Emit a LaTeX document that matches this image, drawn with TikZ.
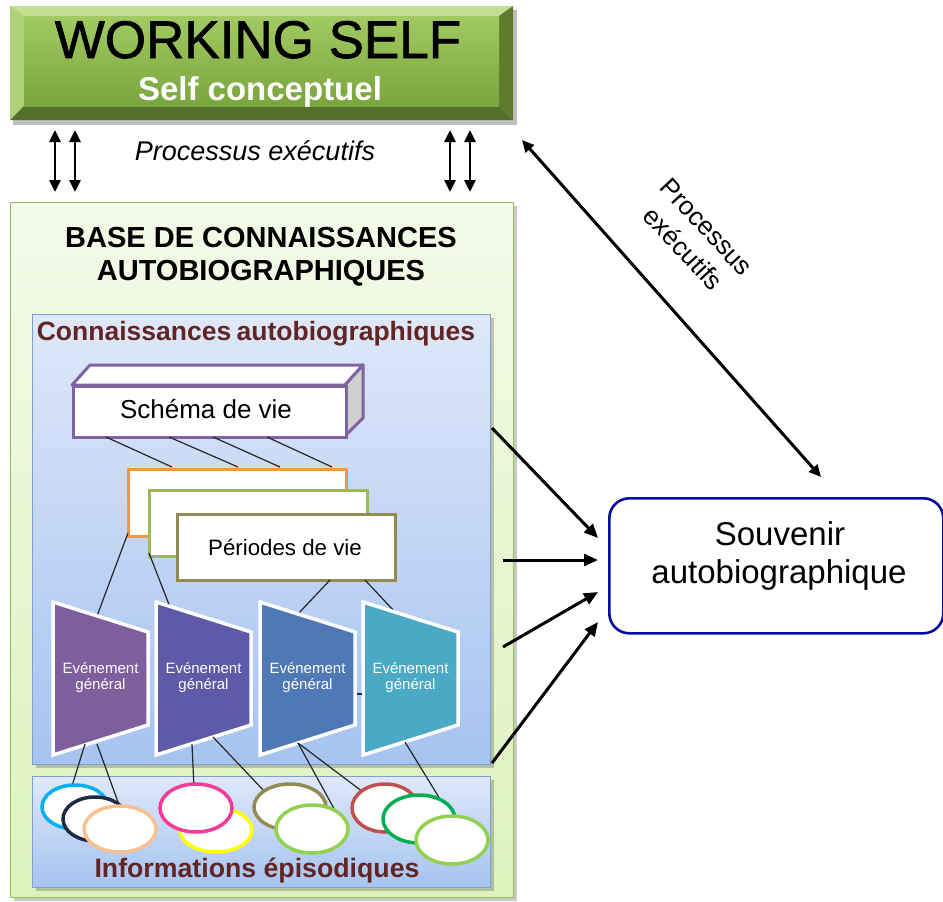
\documentclass[tikz,border=0pt]{standalone}
\usepackage{fontspec}
\setmainfont{Liberation Sans}
\newfontfamily\wsfont{Liberation Sans}[FakeBold=1.2]
\usetikzlibrary{arrows.meta,shadows,shapes.geometric}
\definecolor{wsTB}{HTML}{C2DF92}
\definecolor{wsLB}{HTML}{AED275}
\definecolor{wsRB}{HTML}{5E7C2D}
\definecolor{wsBB}{HTML}{52702A}
\definecolor{wsFT}{HTML}{A2CA62}
\definecolor{wsFB}{HTML}{7AA43E}
\definecolor{gbT}{HTML}{F3FAE8}
\definecolor{gbB}{HTML}{DCF3BD}
\definecolor{gbBorder}{HTML}{9BBB59}
\definecolor{blT}{HTML}{DEE8F9}
\definecolor{blB}{HTML}{A6C3F1}
\definecolor{blBorder}{HTML}{7F9FD3}
\definecolor{titleRed}{HTML}{632523}
\definecolor{schP}{HTML}{8064A2}
\definecolor{schG}{HTML}{D0D0D0}
\definecolor{perO}{HTML}{F79646}
\definecolor{perG}{HTML}{9BBB59}
\definecolor{perK}{HTML}{938953}
\definecolor{evA}{HTML}{7D5F9E}
\definecolor{evB}{HTML}{5E59A8}
\definecolor{evC}{HTML}{4F79B6}
\definecolor{evD}{HTML}{4AA9C5}
\definecolor{souvB}{HTML}{0A0A9E}
\definecolor{epCyan}{HTML}{00B0F0}
\definecolor{epNavy}{HTML}{1C2A44}
\definecolor{epPeach}{HTML}{FABF8F}
\definecolor{epYellow}{HTML}{FFFF00}
\definecolor{epMag}{HTML}{F23A96}
\definecolor{epKhaki}{HTML}{948A54}
\definecolor{epLG}{HTML}{92D050}
\definecolor{epRed}{HTML}{C0504D}
\definecolor{epGreen}{HTML}{00B050}
\newcommand\myfs[2]{\fontsize{#1}{#2}\selectfont}
\begin{document}
\begin{tikzpicture}[x=1pt,y=-1pt,
  lbl/.style={inner sep=0pt, anchor=base},
  dbl/.style={{Triangle[length=12pt,width=11pt]}-{Triangle[length=12pt,width=11pt]}, line width=2.8pt},
  into/.style={-{Triangle[length=14pt,width=12pt]}, line width=3pt},
  conn/.style={line width=1.2pt, draw=black!85},
  pbox/.style={draw, fill=white, line width=3pt, anchor=north west, minimum width=218pt, minimum height=67pt, inner sep=0pt},
  epi/.style={ellipse, draw, fill=white, line width=3.5pt, inner sep=0pt},
  evshape/.style={draw=white, line width=3.5pt},
  evtext/.style={align=center, text=white, inner sep=0pt, font=\myfs{15}{16}},
  bshadow/.style={drop shadow={shadow xshift=3pt, shadow yshift=-3pt, opacity=0.3, fill=black!70}}
]
\useasboundingbox (0,0) rectangle (943,902);

% ---------- WORKING SELF ----------
\fill[black,opacity=0.25] (13,10) rectangle (517,125);
\fill[wsTB] (10,6) -- (513,6) -- (499,16) -- (24,16) -- cycle;
\fill[wsLB] (10,6) -- (24,16) -- (24,106) -- (10,120) -- cycle;
\fill[wsRB] (513,6) -- (513,120) -- (499,106) -- (499,16) -- cycle;
\fill[wsBB] (10,120) -- (513,120) -- (499,106) -- (24,106) -- cycle;
\node[anchor=north west, minimum width=475pt, minimum height=90pt, inner sep=0pt,
      top color=wsFT, bottom color=wsFB] (ws) at (24,16) {};
\node[lbl] (wstitle) at (258,58) {\myfs{53}{60}\wsfont WORKING SELF};
\node[lbl, text=white] (wssub) at (260,100) {\myfs{33}{38}\bfseries Self conceptuel};

% vertical double arrows
\coordinate (v1t) at (55,130); \coordinate (v1b) at (55,192);
\coordinate (v2t) at (75,130); \coordinate (v2b) at (75,192);
\coordinate (v3t) at (450,130); \coordinate (v3b) at (450,192);
\coordinate (v4t) at (470,130); \coordinate (v4b) at (470,192);
\draw[dbl] (v1t) -- (v1b);
\draw[dbl] (v2t) -- (v2b);
\draw[dbl] (v3t) -- (v3b);
\draw[dbl] (v4t) -- (v4b);
\node[lbl] (pe1) at (255,160) {\myfs{27}{30}\itshape Processus exécutifs};

% ---------- BASE DE CONNAISSANCES ----------
\node[anchor=north west, minimum width=503pt, minimum height=695pt, inner sep=0pt,
      top color=gbT, bottom color=gbB, draw=gbBorder, line width=1.2pt, bshadow] (base) at (10,202) {};
\node[lbl] (bt1) at (261,247) {\myfs{29}{33}\bfseries BASE DE CONNAISSANCES};
\node[lbl] (bt2) at (261,280) {\myfs{29}{33}\bfseries AUTOBIOGRAPHIQUES};

% Connaissances autobiographiques box
\node[anchor=north west, minimum width=458pt, minimum height=450pt, inner sep=0pt,
      top color=blT, bottom color=blB, draw=blBorder, line width=1.3pt, bshadow] (ca) at (32,314) {};
\node[lbl, text=titleRed] (catitle) at (256,340) {\myfs{26.5}{30}\bfseries Connaissances\hspace{-2pt} autobiographiques};

% Informations episodiques box
\node[anchor=north west, minimum width=458pt, minimum height=111pt, inner sep=0pt,
      top color=blT, bottom color=blB, draw=blBorder, line width=1.3pt, bshadow] (ie) at (32,776) {};

% Schema de vie (3D box)
\fill[white, draw=schP, line width=3pt, line join=round] (72,385) -- (90,365) -- (363,365) -- (345,385) -- cycle;
\fill[schG, draw=schP, line width=3pt, line join=round] (345,385) -- (363,365) -- (363,418) -- (345,436) -- cycle;
\node[draw=schP, fill=white, line width=3pt, anchor=north west, minimum width=273pt, minimum height=51pt, inner sep=0pt] (schema) at (72,385) {};
\node[lbl] (schtxt) at (206,418) {\myfs{26}{30}Schéma de vie};

% Periodes de vie
\node[pbox, draw=perO] (p1) at (127,468) {};
\node[pbox, draw=perG, minimum height=66pt] (p2) at (148,489) {};
\node[pbox, draw=perK, minimum height=66pt] (p3) at (176,513) {};
\node[lbl] (ptxt) at (285,555) {\myfs{22.3}{26}Périodes de vie};

% schema -> periodes connectors
\coordinate (s1) at (106,437); \coordinate (q1) at (172,467);
\coordinate (s2) at (169,437); \coordinate (q2) at (238,467);
\coordinate (s3) at (213,437); \coordinate (q3) at (280,467);
\coordinate (s4) at (267,437); \coordinate (q4) at (332,467);
\draw[conn] (s1) -- (q1);
\draw[conn] (s2) -- (q2);
\draw[conn] (s3) -- (q3);
\draw[conn] (s4) -- (q4);

% periodes -> events connectors
\coordinate (r1) at (128,533); \coordinate (t1) at (97,616);
\coordinate (r2) at (149,553); \coordinate (t2) at (170,607);
\coordinate (r3) at (330,580); \coordinate (t3) at (298,614);
\coordinate (r4) at (365,580); \coordinate (t4) at (395,612);
\draw[conn] (r1) -- (t1);
\draw[conn] (r2) -- (t2);
\draw[conn] (r3) -- (t3);
\draw[conn] (r4) -- (t4);

% Evenements generaux
\filldraw[evshape, fill=evA] (53,602) -- (148,632) -- (148,725) -- (53,755) -- cycle;
\filldraw[evshape, fill=evB] (156,602) -- (251,632) -- (251,725) -- (156,755) -- cycle;
\filldraw[evshape, fill=evC] (260,602) -- (355,632) -- (355,725) -- (260,755) -- cycle;
\filldraw[evshape, fill=evD] (363,602) -- (458,632) -- (458,725) -- (363,755) -- cycle;
\coordinate (e3r) at (357,694); \coordinate (e4l) at (362,694);
\draw[conn] (e3r) -- (e4l);
\node[evtext] (ev1) at (100.5,678) {Evénement\\général};
\node[evtext] (ev2) at (203.5,678) {Evénement\\général};
\node[evtext] (ev3) at (307.5,678) {Evénement\\général};
\node[evtext] (ev4) at (410.5,678) {Evénement\\général};

% events -> episodes connectors
\coordinate (u1) at (85,744);  \coordinate (w1) at (72,786);
\coordinate (u2) at (97,744);  \coordinate (w2) at (118,802);
\coordinate (u3) at (192,744); \coordinate (w3) at (194,788);
\coordinate (u4) at (213,737); \coordinate (w4) at (265,792);
\coordinate (u5) at (298,743); \coordinate (w5) at (337,814);
\coordinate (u6) at (298,743); \coordinate (w6) at (363,792);
\coordinate (u7) at (405,742); \coordinate (w7) at (443,804);
\draw[conn] (u1) -- (w1);
\draw[conn] (u2) -- (w2);
\draw[conn] (u3) -- (w3);
\draw[conn] (u4) -- (w4);
\draw[conn] (u5) -- (w5);
\draw[conn] (u6) -- (w6);
\draw[conn] (u7) -- (w7);

% episodes
\node[epi, draw=epCyan,   minimum width=66pt, minimum height=44pt] (i1) at (75,807) {};
\node[epi, draw=epNavy,   minimum width=64pt, minimum height=44pt] (i2) at (95,819) {};
\node[epi, draw=epPeach,  minimum width=72pt, minimum height=46pt] (i3) at (120,829) {};
\node[epi, draw=epYellow, minimum width=72pt, minimum height=44pt] (i4) at (216,830) {};
\node[epi, draw=epMag,    minimum width=72pt, minimum height=48pt] (i5) at (196,808) {};
\node[epi, draw=epKhaki,  minimum width=72pt, minimum height=46pt] (i6) at (290,807) {};
\node[epi, draw=epLG,     minimum width=72pt, minimum height=48pt] (i7) at (312,829) {};
\node[epi, draw=epRed,    minimum width=66pt, minimum height=48pt] (i8) at (385,808) {};
\node[epi, draw=epGreen,  minimum width=72pt, minimum height=48pt] (i9) at (419,819) {};
\node[epi, draw=epLG,     minimum width=72pt, minimum height=48pt] (i10) at (452,840) {};
\node[lbl, text=titleRed] (ietitle) at (257,877) {\myfs{26.7}{30}\bfseries Informations épisodiques};

% ---------- SOUVENIR ----------
\node[draw=souvB, fill=white, rounded corners=20pt, line width=2.6pt, anchor=north west,
      minimum width=334pt, minimum height=135pt, inner sep=0pt] (souv) at (608,497) {};
\node[lbl] (sv1) at (780,545) {\myfs{33}{38}Souvenir};
\node[lbl] (sv2) at (779,583) {\myfs{33}{38}autobiographique};

\coordinate (k1) at (492,428); \coordinate (m1) at (598,538);
\coordinate (k2) at (503,560); \coordinate (m2) at (598,560);
\coordinate (k3) at (503,647); \coordinate (m3) at (598,592);
\coordinate (k4) at (492,763); \coordinate (m4) at (598,622);
\draw[into] (k1) -- (m1);
\draw[into] (k2) -- (m2);
\draw[into] (k3) -- (m3);
\draw[into] (k4) -- (m4);

\coordinate (d1) at (522,140); \coordinate (d2) at (821,477);
\draw[dbl, line width=3pt] (d1) -- (d2);
\node[align=center, rotate=-47, inner sep=0pt, font=\myfs{26}{32}] (pe2) at (695,238) {Processus\\exécutifs};
\end{tikzpicture}
\end{document}
